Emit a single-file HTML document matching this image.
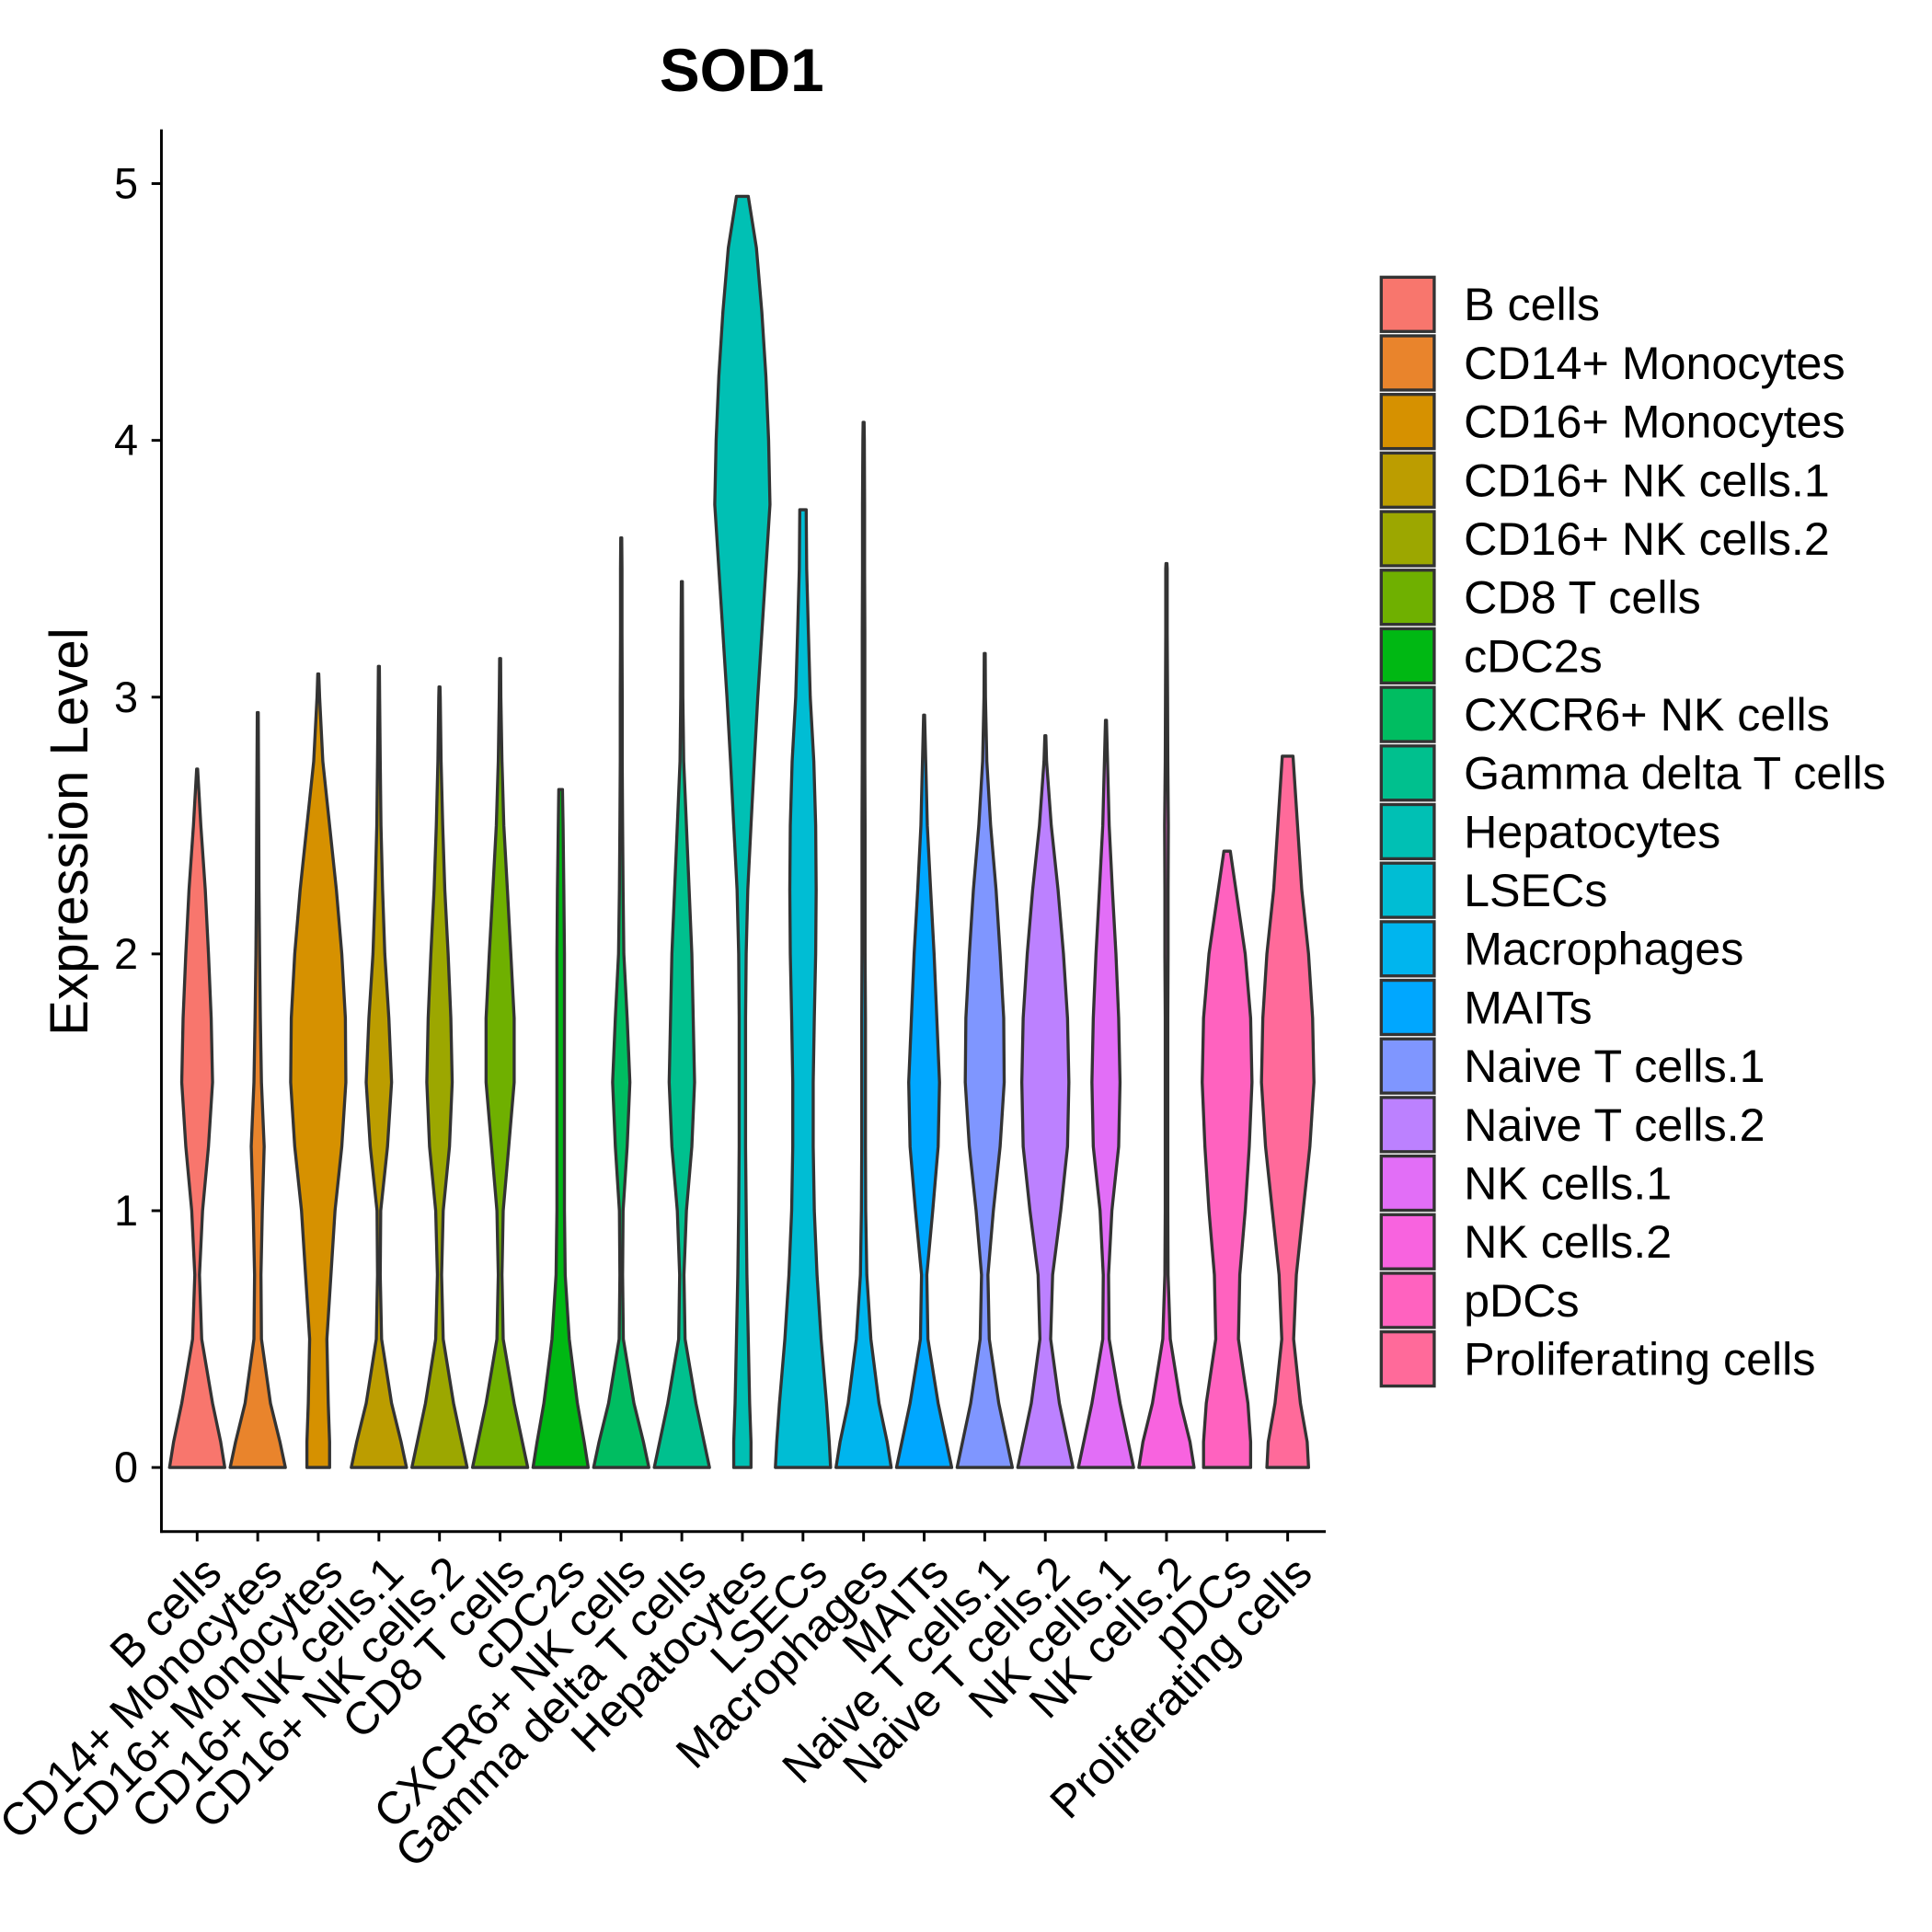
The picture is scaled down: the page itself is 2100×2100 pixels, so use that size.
<!DOCTYPE html>
<html><head><meta charset="utf-8">
<style>
html,body{margin:0;padding:0;background:#fff;}
svg{display:block;font-family:"Liberation Sans",Arial,sans-serif;}
</style></head>
<body>
<svg id="chart" width="2100" height="2100" viewBox="0 0 1568 1568" xmlns="http://www.w3.org/2000/svg">
<rect width="1568" height="1568" fill="#fff"/>
<text x="602" y="74" text-anchor="middle" font-size="49" font-weight="bold">SOD1</text>
<text transform="translate(71,675) rotate(-90)" text-anchor="middle" font-size="43.5">Expression Level</text>
<g id="plot"></g>
<g id="legend"></g>
</svg>
<script>
const categories = ["B cells","CD14+ Monocytes","CD16+ Monocytes","CD16+ NK cells.1","CD16+ NK cells.2","CD8 T cells","cDC2s","CXCR6+ NK cells","Gamma delta T cells","Hepatocytes","LSECs","Macrophages","MAITs","Naive T cells.1","Naive T cells.2","NK cells.1","NK cells.2","pDCs","Proliferating cells"];
const yTicks = [0,1,2,3,4,5];
const levels = [0,0.1,0.25,0.5,0.75,1,1.25,1.5,1.75,2,2.25,2.5,2.75,3,3.25,3.5,3.75,4,4.25,4.5,4.75];
const maxValues = [2.72,2.94,3.09,3.12,3.04,3.15,2.64,3.62,3.45,4.95,3.73,4.07,2.93,3.17,2.85,2.91,3.52,2.40,2.77];
const topWidths = [0,0,0,0,0,0,0.05,0,0,0.2,0.1,0,0,0,0,0,0,0.1,0.18];
const widths = [
 [1,0.85,0.55,0.15,0.07,0.18,0.4,0.55,0.5,0.4,0.28,0.12],
 [1,0.8,0.45,0.12,0.1,0.15,0.22,0.12,0.08,0.05,0.03,0.02],
 [0.4,0.4,0.35,0.3,0.45,0.6,0.85,1,0.98,0.85,0.65,0.4,0.15,0.03],
 [1,0.8,0.45,0.08,0.03,0.05,0.3,0.45,0.35,0.2,0.12,0.06,0.03,0.01],
 [1,0.8,0.5,0.12,0.06,0.12,0.35,0.45,0.4,0.3,0.18,0.1,0.04,0.01],
 [1,0.8,0.5,0.1,0.05,0.1,0.3,0.5,0.5,0.38,0.25,0.12,0.05,0.01],
 [1,0.85,0.6,0.3,0.15,0.12,0.12,0.12,0.12,0.12,0.1,0.07],
 [1,0.8,0.45,0.06,0.03,0.05,0.2,0.3,0.2,0.08,0.05,0.03,0.02,0.02,0.01,0.01],
 [1,0.8,0.5,0.1,0.06,0.15,0.35,0.45,0.4,0.35,0.25,0.15,0.05,0.02,0.01],
 [0.3,0.3,0.25,0.2,0.15,0.12,0.1,0.1,0.1,0.12,0.18,0.3,0.42,0.55,0.7,0.85,1,0.95,0.85,0.7,0.5],
 [1,0.95,0.85,0.65,0.5,0.4,0.36,0.36,0.4,0.45,0.47,0.45,0.38,0.25,0.18,0.12],
 [1,0.85,0.55,0.25,0.1,0.06,0.05,0.05,0.05,0.04,0.04,0.04,0.03,0.03,0.03,0.02,0.02,0.01],
 [1,0.8,0.5,0.12,0.08,0.3,0.5,0.55,0.45,0.35,0.22,0.1],
 [1,0.8,0.5,0.15,0.1,0.3,0.55,0.7,0.68,0.55,0.4,0.2,0.06,0.01],
 [1,0.8,0.5,0.18,0.25,0.55,0.8,0.85,0.8,0.65,0.45,0.2,0.03],
 [1,0.8,0.5,0.1,0.08,0.2,0.45,0.5,0.45,0.35,0.22,0.1],
 [1,0.85,0.5,0.12,0.04,0.03,0.03,0.03,0.03,0.04,0.04,0.05,0.03,0.02,0.01,0.01],
 [0.85,0.85,0.75,0.4,0.45,0.65,0.8,0.9,0.85,0.65],
 [0.75,0.7,0.45,0.2,0.3,0.55,0.8,0.95,0.9,0.75,0.5]
];

const NS="http://www.w3.org/2000/svg";
const X0=160, DX=49.17, Y0=1191, DY=208.4, HW=22;
const xScale=i=>X0+i*DX;
const yScale=v=>Y0-v*DY;

function hcl(h,c,l){
  const Xn=95.047,Yn=100,Zn=108.883;
  const un=4*Xn/(Xn+15*Yn+3*Zn), vn=9*Yn/(Xn+15*Yn+3*Zn);
  const Y=Yn*Math.pow((l+16)/116,3);
  const hr=h*Math.PI/180;
  const u=c*Math.cos(hr)/(13*l)+un, v=c*Math.sin(hr)/(13*l)+vn;
  const X=Y*9*u/(4*v), Z=Y*(12-3*u-20*v)/(4*v);
  const x=X/100,y=Y/100,z=Z/100;
  let r=3.2404542*x-1.5371385*y-0.4985314*z;
  let g=-0.9692660*x+1.8760108*y+0.0415560*z;
  let b=0.0556434*x-0.2040259*y+1.0572252*z;
  const gm=t=>{t=t<=0.0031308?12.92*t:1.055*Math.pow(t,1/2.4)-0.055;return Math.round(Math.max(0,Math.min(1,t))*255);};
  return "rgb("+gm(r)+","+gm(g)+","+gm(b)+")";
}
const n=categories.length;
const colors=categories.map((c,i)=>hcl(15+360*i/n,100,65));

const plot=document.getElementById('plot');
function mk(tag,attrs,parent){const e=document.createElementNS(NS,tag);for(const k in attrs)e.setAttribute(k,attrs[k]);(parent||plot).appendChild(e);return e;}

const yax=mk('line',{x1:131,y1:105,x2:131,y2:1244,stroke:'#000','stroke-width':2.2});


const xax=mk('line',{x1:130,y1:1243,x2:1076,y2:1243,stroke:'#000','stroke-width':2.2});



yTicks.forEach(t=>{
  const y=yScale(t);
  const tk=mk('line',{x1:123,y1:y,x2:131,y2:y,stroke:'#000','stroke-width':2.2});
  
  
  const tx=mk('text',{x:112,y:y+12,'text-anchor':'end','font-size':35});
  
  
  tx.textContent=t;
});

categories.forEach((c,i)=>{
  const cx=xScale(i);
  const mx=maxValues[i], w=widths[i];
  const pts=[];
  for(let k=0;k<w.length&&levels[k]<mx;k++) pts.push([levels[k],w[k]]);
  pts.push([mx,topWidths[i]]);
  let right=pts.map(p=>[cx+p[1]*HW+0.4,yScale(p[0])]);
  let left=pts.slice().reverse().map(p=>[cx-p[1]*HW-0.4,yScale(p[0])]);
  const d="M"+right.concat(left).map(p=>p[0].toFixed(1)+","+p[1].toFixed(1)).join(" L")+" Z";
  const v=mk('path',{d:d,fill:colors[i],stroke:'#333','stroke-width':2.5,'stroke-linejoin':'round'});
  
  
  const tk=mk('line',{x1:cx,y1:1243,x2:cx,y2:1251,stroke:'#000','stroke-width':2.2});
  
  
  const tx=mk('text',{transform:'translate('+(cx+3)+',1260) rotate(-45)','text-anchor':'end','font-size':37,dy:'0.72em'});
  
  
  tx.textContent=c;
});

const legend=document.getElementById('legend');
categories.forEach((c,i)=>{
  const y=224+i*47.55;
  const g=mk('g',{},legend);
  
  
  const r=mk('rect',{x:1121,y:y+1,width:43,height:44,fill:colors[i],stroke:'#333','stroke-width':2.5},g);
  
  
  const t=mk('text',{x:1188,y:y+36,'font-size':37.5},g);
  
  
  t.textContent=c;
});
</script>
</body></html>
